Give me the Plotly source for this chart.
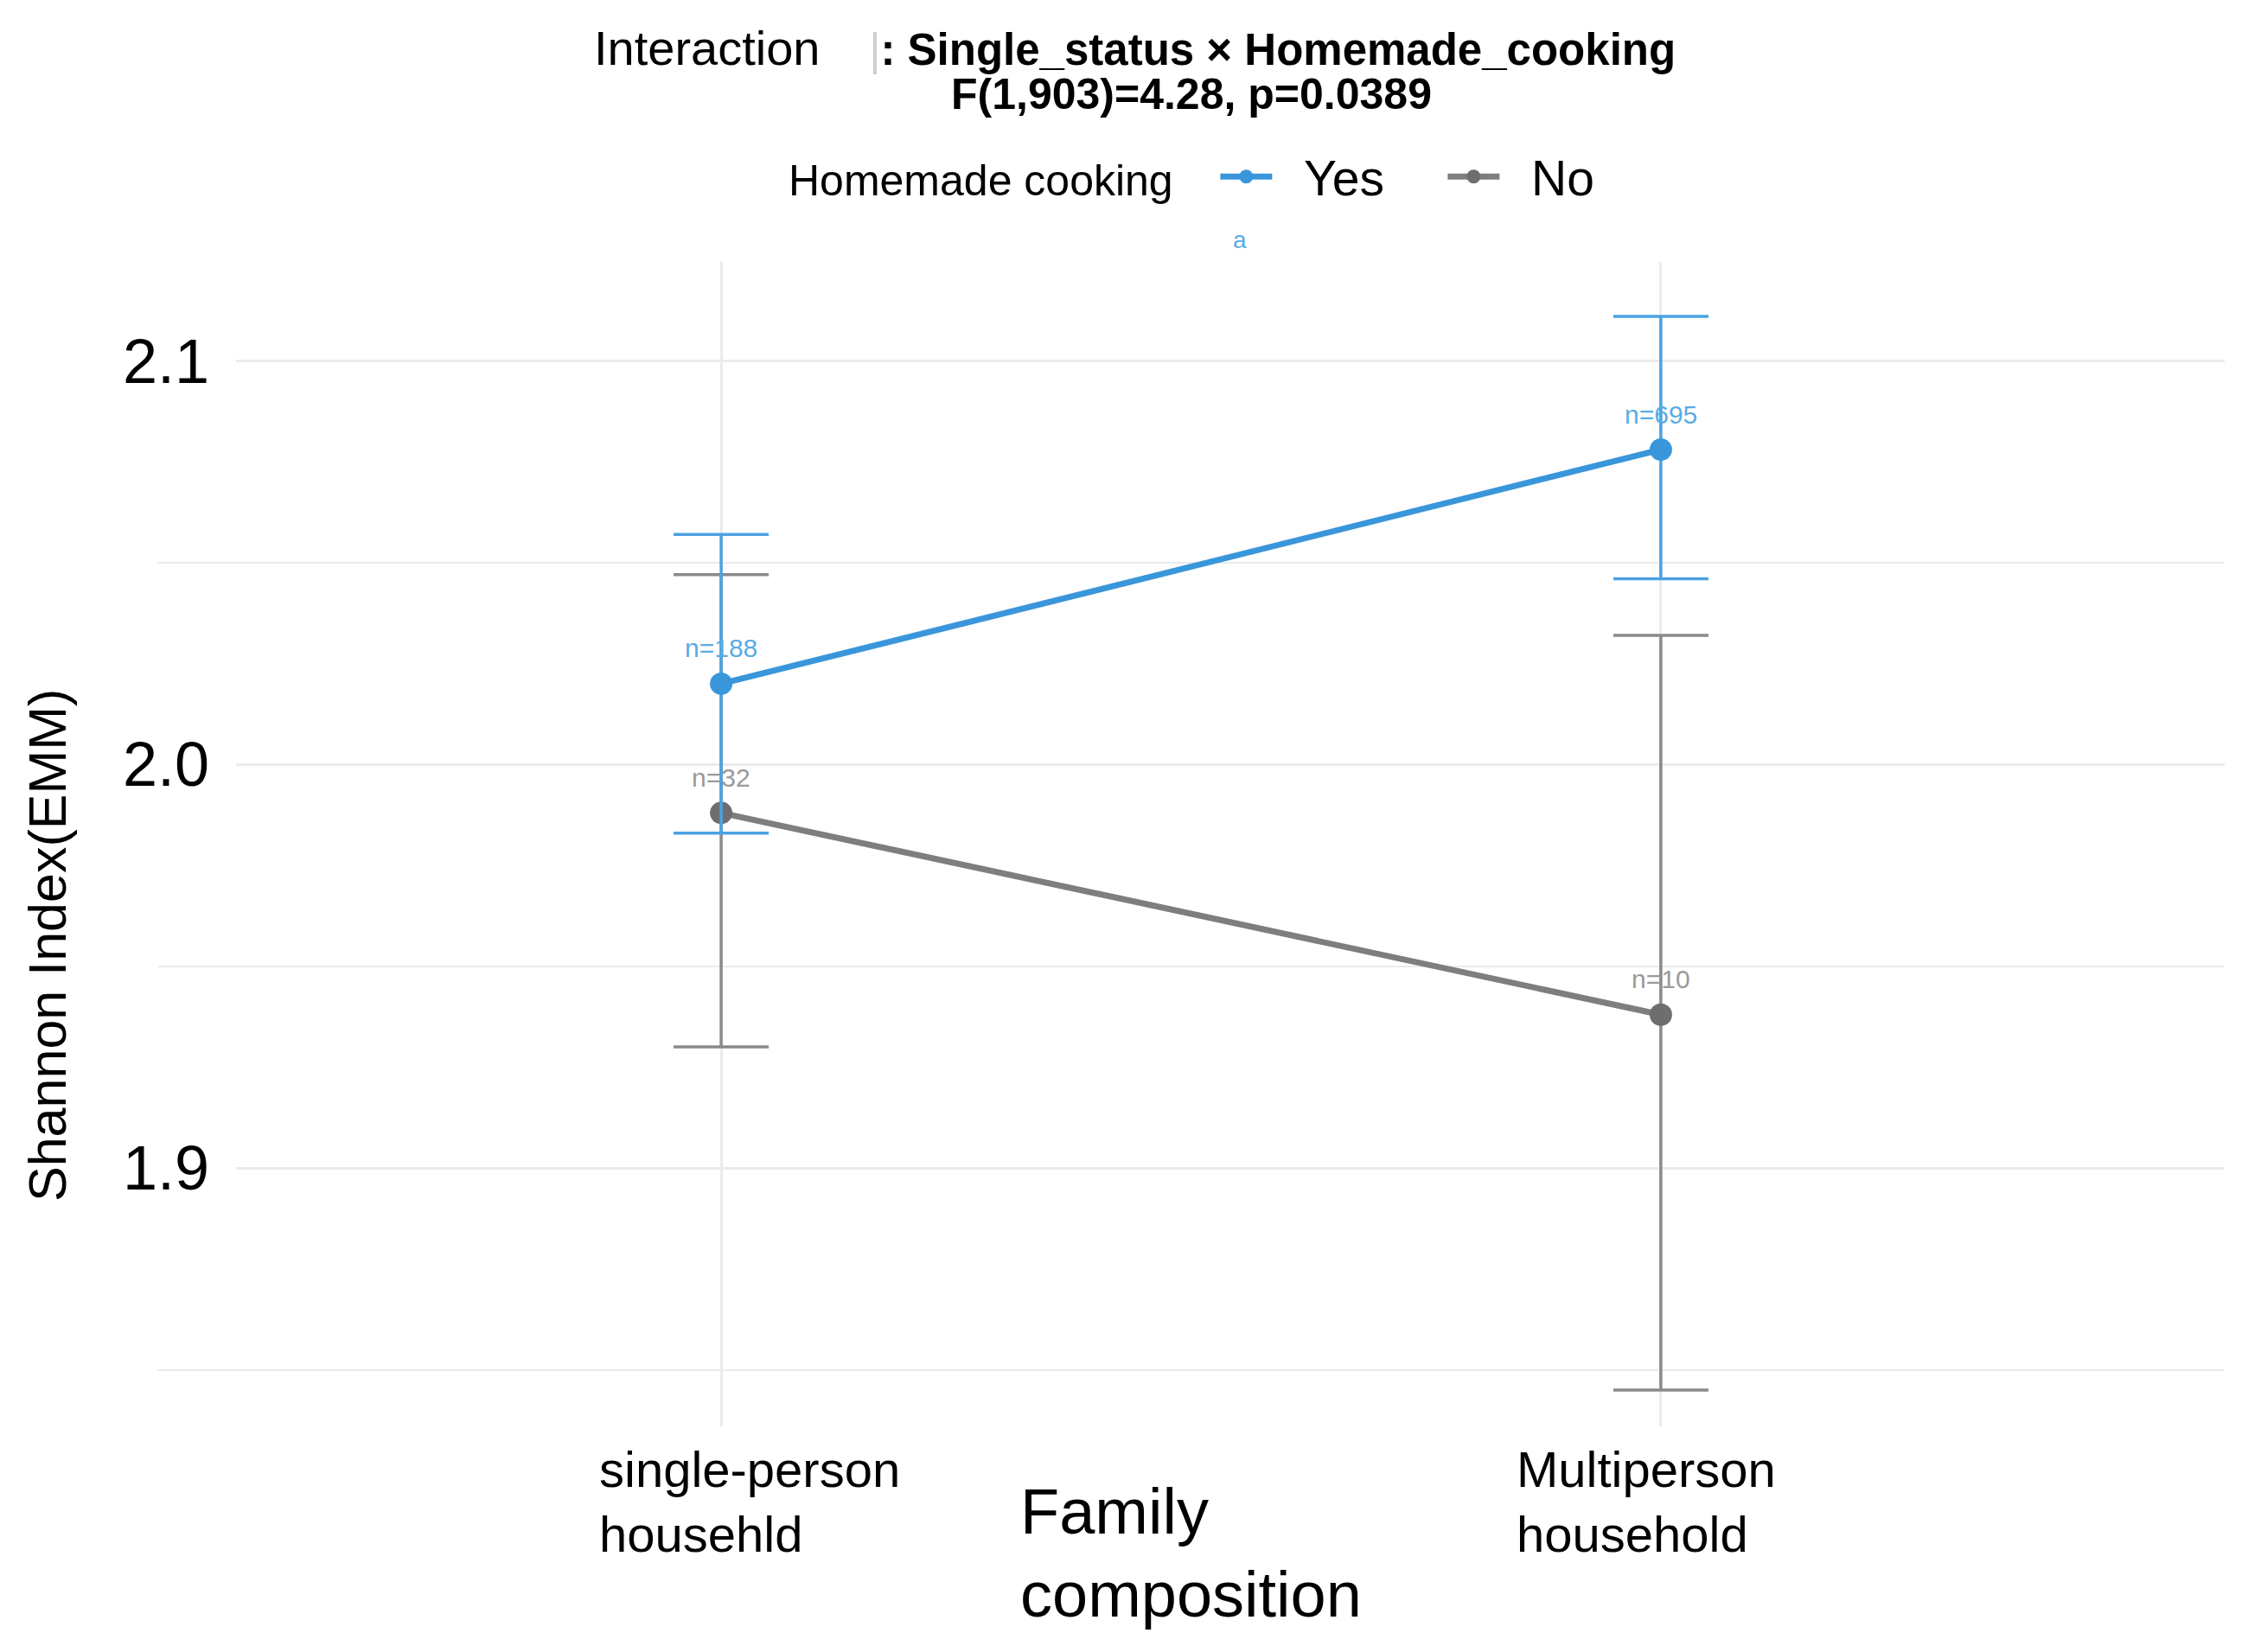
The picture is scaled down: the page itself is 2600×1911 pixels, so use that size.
import plotly.graph_objects as go

# ---------------- data ----------------
categories = ["single-person<br>househld", "Multiperson<br>household"]
groups = ["Yes", "No"]
emm_yes = [2.020, 2.078]
upper_yes = [2.057, 2.111]
lower_yes = [1.983, 2.046]
emm_no = [1.988, 1.938]
upper_no = [2.047, 2.032]
lower_no = [1.930, 1.845]
n_yes = ["n=188", "n=695"]
n_no = ["n=32", "n=10"]
y_ticks = [1.9, 2.0, 2.1]
y_minor = [1.85, 1.95, 2.05]
y_range = [1.836, 2.1245]
x_full_range = [-0.6, 1.6]

# ---------------- style ----------------
FONT = "Liberation Sans, Arial, Helvetica, sans-serif"
BLUE = "#3A96DB"
BLUE_ERR = "#4AA2E2"
BLUE_TXT = "#5AACE4"
GRAY_LINE = "#7E7E7E"
GRAY_MARK = "#6E6E6E"
GRAY_ERR = "#8A8A8A"
GRAY_TXT = "#9A9A9A"
GRID = "#EBEBEB"
tick_label_shift = [33, -17]  # px offsets of the left-aligned category labels
NB = "&nbsp;"

W, H = 2600, 1911
ML, MR, MT, MB = 182, 27, 303, 261
plot_w = W - ML - MR
plot_h = H - MT - MB
d0 = 91 / plot_w  # main panel starts a bit right of the minor-grid strip
x_main_range = [x_full_range[0] + d0 * (x_full_range[1] - x_full_range[0]), x_full_range[1]]


def err(vals, up, lo):
    return [u - v for u, v in zip(up, vals)], [v - l for v, l in zip(vals, lo)]


def legend_name(g, trailing):
    return NB * 2 + g + NB * trailing


fig = go.Figure()

p_no, m_no = err(emm_no, upper_no, lower_no)
fig.add_trace(go.Scatter(
    x=categories, y=emm_no, name=legend_name(groups[1], 0), legendrank=2,
    mode="lines+markers",
    line=dict(color=GRAY_LINE, width=7),
    marker=dict(color=GRAY_MARK, size=26),
    error_y=dict(type="data", array=p_no, arrayminus=m_no, color=GRAY_ERR,
                 thickness=3.5, width=55),
    cliponaxis=False,
))

p_yes, m_yes = err(emm_yes, upper_yes, lower_yes)
fig.add_trace(go.Scatter(
    x=categories, y=emm_yes, name=legend_name(groups[0], 4), legendrank=1,
    mode="lines+markers",
    line=dict(color=BLUE, width=7),
    marker=dict(color=BLUE, size=26),
    error_y=dict(type="data", array=p_yes, arrayminus=m_yes, color=BLUE_ERR,
                 thickness=3.5, width=55),
    cliponaxis=False,
))

# thin strip on the left that only carries the minor grid lines
fig.add_trace(go.Scatter(x=[], y=[], xaxis="x2", yaxis="y2", showlegend=False,
                         hoverinfo="skip"))

fig.update_layout(
    width=W, height=H,
    margin=dict(l=ML, r=MR, t=MT, b=MB),
    paper_bgcolor="white", plot_bgcolor="white",
    font=dict(family=FONT, color="black"),
    showlegend=True,
    legend=dict(
        orientation="h", x=(910 - ML) / plot_w, xanchor="left",
        y=1.073, yanchor="middle",
        itemwidth=60,
        font=dict(size=57, family=FONT, color="black"),
        title=dict(text="Homemade cooking" + NB * 3,
                   font=dict(size=50, family=FONT, color="black")),
        bgcolor="rgba(0,0,0,0)",
    ),
    xaxis=dict(
        domain=[d0, 1], type="category", categoryorder="array", categoryarray=categories,
        range=x_main_range, showgrid=True, gridcolor=GRID, gridwidth=3,
        showticklabels=False, ticks="", showline=False, zeroline=False,
    ),
    yaxis=dict(
        range=y_range, tickvals=y_ticks, ticktext=[f"{v:.1f}" for v in y_ticks],
        showgrid=True, gridcolor=GRID, gridwidth=3, zeroline=False, showline=False,
        ticks="", ticklabelstandoff=30,
        tickfont=dict(size=72, family=FONT, color="black"),
        minor=dict(tickvals=y_minor, showgrid=True, gridcolor=GRID, gridwidth=2),
    ),
    xaxis2=dict(domain=[0, d0], anchor="y2", range=[0, 1], showgrid=False,
                showticklabels=False, ticks="", zeroline=False, showline=False),
    yaxis2=dict(
        anchor="x2", range=y_range, showgrid=False, showticklabels=False, ticks="",
        zeroline=False, showline=False,
        minor=dict(tickvals=y_minor, showgrid=True, gridcolor=GRID, gridwidth=2),
    ),
)

# sample-size labels above each point (No first so the blue bars pass over them)
for vals, labels, col in ((emm_no, n_no, GRAY_TXT), (emm_yes, n_yes, BLUE_TXT)):
    for c, v, t in zip(categories, vals, labels):
        fig.add_annotation(x=c, y=v, xref="x", yref="y", text=t, showarrow=False,
                           yshift=41, xanchor="center", yanchor="middle",
                           font=dict(size=30, family=FONT, color=col))

# y axis title (sits a little below the panel centre in the reference)
fig.add_annotation(x=(55 - ML) / plot_w, xref="paper", y=(MT + plot_h - 1094) / plot_h,
                   yref="paper", text="Shannon Index(EMM)", textangle=-90,
                   showarrow=False, xanchor="center", yanchor="middle",
                   font=dict(size=61, family=FONT, color="black"))

# x tick labels (left-aligned two-line labels, as in the reference)
for c, s in zip(categories, tick_label_shift):
    fig.add_annotation(x=c, xref="x", y=-0.0646, yref="paper", text=c,
                       showarrow=False, align="left", xanchor="center", yanchor="middle",
                       xshift=s, font=dict(size=58, family=FONT, color="black"))

# x axis title
fig.add_annotation(x=0.5, xref="paper", y=-0.1084, yref="paper",
                   text="Family<br>composition", showarrow=False, align="left",
                   xanchor="center", yanchor="middle",
                   font=dict(size=74, family=FONT, color="black"))

# title lines
fig.add_annotation(
    x=(685 - ML) / plot_w, xref="paper", y=1 + (MT - 55) / plot_h,
    yref="paper", xanchor="left", yanchor="middle", showarrow=False,
    text="<span style='font-size:56px'>Interaction</span>" + NB * 4 +
         "<span style='color:#d0d0d0'>|</span><b>: Single_status × Homemade_cooking</b>",
    font=dict(size=51, family=FONT, color="black"),
)
fig.add_annotation(
    x=0.5, xref="paper", y=1 + (MT - 109) / plot_h, yref="paper",
    xanchor="center", yanchor="middle", showarrow=False,
    text="<b>F(1,903)=4.28, p=0.0389</b>",
    font=dict(size=50, family=FONT, color="black"),
)
# stray small label under the legend
fig.add_annotation(
    x=(1434 - ML) / plot_w, xref="paper", y=1 + (MT - 277) / plot_h, yref="paper",
    xanchor="center", yanchor="middle", showarrow=False, text="a",
    font=dict(size=28, family=FONT, color=BLUE_TXT),
)

fig.write_html("out.html")
